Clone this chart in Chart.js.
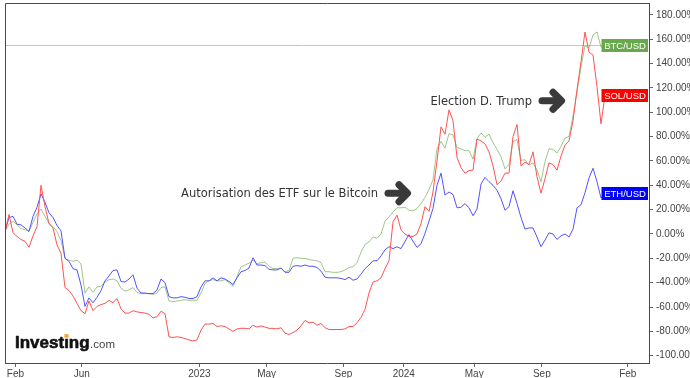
<!DOCTYPE html>
<html>
<head>
<meta charset="utf-8">
<script src="https://cdn.jsdelivr.net/npm/chart.js@4/dist/chart.umd.min.js"></script>
<style>
  html, body { margin: 0; padding: 0; background: #fff; }
  #wrap { width: 690px; height: 378px; }
</style>
</head>
<body>
<div id="wrap"><canvas id="c" width="690" height="378"></canvas></div>
<script>
// Weekly performance (%) since the start of the period
const btc = [
  2, 8, 10.5, 7.5, 4.5, 3.5, 2.5, 9.5, 16.5, 20.5,
  14.5, 9, 6, 2, -5.5, -20, -21.5, -22.5, -21.5, -24.5,
  -48.5, -43.5, -48, -43.5, -43, -39.5, -37.5, -37, -38.5, -44.5,
  -47, -46, -44, -48, -49, -49, -49, -49.5, -48.5, -44,
  -43.5, -55, -55.5, -55, -54.5, -54, -54.5, -54.5, -54.5, -48.5,
  -40.5, -38.5, -37.5, -38.5, -38.5, -37.5, -40, -43, -35, -27,
  -25.5, -24, -21.5, -24.5, -23.5, -23, -26.5, -28.5, -28.5, -28,
  -31, -30, -20, -19.5, -20, -20, -21, -21.5, -22, -23.5,
  -31, -31, -31.5, -31.5, -31, -29.5, -27.5, -27, -23.5, -15,
  -8.5, -6.5, -2.5, -3.5, 0, 10.5, 14, 18, 21.5, 21.5,
  22, 19.5, 19, 21, 25, 30, 36.5, 44.5, 70, 76,
  70.5, 82.5, 81.5, 71, 70, 68.5, 68.5, 61.5, 78.5, 83,
  79.5, 82, 75, 69.5, 63.5, 53.5, 57, 76, 77.5, 60.5,
  61, 56.5, 58.5, 52.5, 43, 59.5, 70, 69.5, 66.5, 72,
  79, 80, 97, 117, 137.5, 154.5, 153, 163.5, 166, 153.5,
  155
];
const sol = [
  2, 16, 1, -2, -4.5, -6, -11, -1.5, 6, 40,
  22.5, 8.5, 5, -9, -16, -44, -46.5, -51, -57, -63,
  -65.5, -55, -63, -59.5, -58, -57, -54.5, -56.5, -53, -61.5,
  -65, -65, -63, -64, -64.5, -65, -66, -69, -68, -63.5,
  -65.5, -84.5, -85, -84.5, -85, -86, -87, -88, -87, -79,
  -74, -74, -73.5, -76, -75.5, -76, -78, -80, -78, -77.5,
  -77.5, -78, -75, -76.5, -75.5, -76.5, -77.5, -77.5, -78, -77,
  -81.5, -82.5, -81, -79, -75.5, -71, -73, -72.5, -75, -73.5,
  -77, -78.5, -78.5, -78.5, -78.5, -78, -76, -76, -73, -68.5,
  -62, -48.5, -39.5, -38.5, -36, -28.5, -22, 10, 15.5, 3.5,
  0, -2, -2, 0, 8.5, 22.5, 18.5, 34.5, 60, 88,
  82, 102, 93, 63, 54.5, 50, 52, 52.5, 78, 76.5,
  74, 67.5, 56, 40.5, 43.5, 50, 50, 80, 90, 56,
  59, 57, 67.5, 47, 33.5, 45.5, 58.5, 57, 52.5, 64,
  73, 76.5, 93, 118.5, 141.5, 166, 149.5, 147, 121, 90.5,
  114
];
const eth = [
  2, 13.5, 14.5, 8, 7.5, 5, 2, 14.5, 22, 33,
  26, 17.5, 13.5, 7, 2.5, -20, -22.5, -28.5, -29.5, -42,
  -59.5, -52.5, -56.5, -52, -46.5, -38.5, -34.5, -30, -29.5, -39,
  -39.5, -37, -33.5, -44.5, -48.5, -48.5, -49, -49, -46, -37,
  -40, -51.5, -52.5, -52.5, -51.5, -52, -53, -53, -51.5, -43.5,
  -38.5, -38.5, -36, -38.5, -36, -37, -39, -41.5, -36, -31,
  -30, -28, -19.5, -25.5, -25.5, -26, -29, -29.5, -29.5, -28,
  -31.5, -31.5, -26.5, -26, -26.5, -25.5, -26.5, -26.5, -27.5, -30.5,
  -35.5, -36, -36, -36, -36.5, -37.5, -35.5, -38, -37, -33,
  -28.5, -25.5, -22, -22, -18, -13, -10.5, -12, -10.5, -12,
  -6, -0.5, -6, -11, -8, 0.5, 10.5, 21, 40, 50,
  32, 34.5, 32.5, 21.5, 22, 25, 21.5, 15, 20.5, 41,
  46.5, 43, 40, 36, 29, 19.5, 22.5, 35.5, 25, 13.5,
  4, 5, 5, -2.5, -10.5, -5, 1, 0, -4.5, -1.5,
  0, -2.5, 4, 21.5, 24, 34, 46, 54, 43, 29.5,
  33
];

// Week index at which each axis label's month begins
const tickWeeks  = [2.6, 19.2, 48.6, 65.4, 84.6, 99.7, 117.3, 134.2, 155.7];
const tickLabels = ['Feb', 'Jun', '2023', 'May', 'Sep', '2024', 'May', 'Sep', 'Feb'];
const yTickValues = [-100, -80, -60, -40, -20, 0, 20, 40, 60, 80, 100, 120, 140, 160, 180];

const seriesNames = ['SOL/USD', 'ETH/USD', 'BTC/USD'];

// Event notes: [text, week index, level in %]
const notes = [
  ['Autorisation des ETF sur le Bitcoin', 101.5, 33.5],
  ['Election D. Trump', 140, 109.5]
];

const toPoints = arr => arr.map((v, i) => ({ x: i, y: v }));

const lineColors = ['#ff5252', '#5252ff', 'rgba(112,172,84,0.68)'];
const boxColors  = ['#ff0000', '#0000ff', '#6aa84f'];
const seriesData = [sol, eth, btc];

Chart.defaults.font.family = '"Liberation Sans", Arial, sans-serif';

const overlay = {
  id: 'overlay',
  beforeDatasetsDraw(chart) {
    const { ctx, chartArea, scales } = chart;
    // last-price guide for BTC
    const y = Math.round(scales.y.getPixelForValue(btc[btc.length - 1])) + 0.5;
    ctx.save();
    ctx.strokeStyle = '#b4d89e';
    ctx.lineWidth = 1;
    ctx.beginPath();
    ctx.moveTo(chartArea.left, y);
    ctx.lineTo(chartArea.right - 47, y);
    ctx.stroke();
    ctx.restore();
  },
  afterDatasetsDraw(chart) {
    const { ctx, chartArea, scales } = chart;
    const xs = scales.x, ys = scales.y;
    ctx.save();

    // frame on the left and top edges
    ctx.strokeStyle = '#4a4a4a';
    ctx.lineWidth = 1;
    ctx.beginPath();
    ctx.moveTo(chartArea.left + 0.5, chartArea.bottom);
    ctx.lineTo(chartArea.left + 0.5, chartArea.top + 0.5);
    ctx.lineTo(chartArea.right, chartArea.top + 0.5);
    ctx.stroke();

    // series tags at the last value
    seriesData.forEach((arr, k) => {
      const yc = ys.getPixelForValue(arr[arr.length - 1]);
      const x0 = chartArea.right - 47.5;
      ctx.fillStyle = boxColors[k];
      ctx.fillRect(x0, Math.round(yc - 6.5), 46.5, 13);
      ctx.fillStyle = '#ffffff';
      ctx.font = '9.5px "Liberation Sans", Arial, sans-serif';
      ctx.textAlign = 'center';
      ctx.textBaseline = 'middle';
      ctx.fillText(seriesNames[k], x0 + 23.5, Math.round(yc - 6.5) + 7);
    });

    // event notes with arrows
    notes.forEach(([text, wk, lvl]) => {
      const tx = xs.getPixelForValue(wk);
      const ty = ys.getPixelForValue(lvl);
      ctx.strokeStyle = '#3a3a3a';
      ctx.lineCap = 'round';
      ctx.lineJoin = 'round';
      ctx.lineWidth = 7;
      ctx.beginPath();
      ctx.moveTo(tx - 23, ty);
      ctx.lineTo(tx - 5, ty);
      ctx.stroke();
      ctx.beginPath();
      ctx.moveTo(tx - 12, ty - 8.5);
      ctx.lineTo(tx - 3.5, ty);
      ctx.lineTo(tx - 12, ty + 8.5);
      ctx.stroke();
      ctx.fillStyle = '#333333';
      ctx.font = '11.5px "DejaVu Sans", sans-serif';
      ctx.textAlign = 'right';
      ctx.textBaseline = 'middle';
      ctx.fillText(text, tx - 33, ty + 1);
    });

    // brand mark
    const bx = chartArea.left + 10, by = chartArea.bottom - 15.5;
    ctx.textAlign = 'left';
    ctx.textBaseline = 'alphabetic';
    ctx.font = 'bold 17px "Liberation Sans", Arial, sans-serif';
    ctx.fillStyle = '#111111';
    ctx.strokeStyle = '#111111';
    ctx.lineWidth = 0.6;
    ctx.lineCap = 'butt';
    ctx.fillText('Investing', bx, by);
    ctx.strokeText('Investing', bx, by);
    const pre = ctx.measureText('Invest').width;
    const iw = ctx.measureText('i').width;
    const wBrand = ctx.measureText('Investing').width;
    ctx.fillStyle = '#ffffff';
    ctx.fillRect(bx + pre + iw / 2 - 2.7, by - 14, 5.4, 4.6);
    ctx.fillStyle = '#f5a623';
    ctx.fillRect(bx + pre + iw / 2 - 2.1, by - 13.3, 4.2, 3.5);
    ctx.font = '11.5px "Liberation Sans", Arial, sans-serif';
    ctx.fillStyle = '#444444';
    ctx.fillText('.com', bx + wBrand + 0.5, by);

    ctx.restore();
  }
};

new Chart(document.getElementById('c'), {
  type: 'line',
  data: {
    datasets: seriesData.map((arr, k) => ({
      label: seriesNames[k],
      data: toPoints(arr),
      borderColor: lineColors[k],
      borderWidth: 1,
      pointRadius: 0,
      tension: 0,
      fill: false
    }))
  },
  options: {
    responsive: false,
    animation: false,
    events: [],
    layout: { padding: { top: 3, left: 5, right: 0, bottom: 0 } },
    plugins: { legend: { display: false }, tooltip: { enabled: false } },
    scales: {
      x: {
        type: 'linear',
        min: 0,
        max: 161,
        afterBuildTicks: s => { s.ticks = tickWeeks.map(v => ({ value: v })); },
        afterFit: s => { s.height = 15; s.paddingLeft = 0; s.paddingRight = 0; },
        grid: { drawOnChartArea: false, drawTicks: true, tickLength: 4, color: '#666' },
        border: { display: true, color: '#4a4a4a' },
        ticks: {
          autoSkip: false,
          maxRotation: 0,
          padding: 1,
          color: '#444',
          font: { size: 10 },
          callback: (v, i) => tickLabels[i]
        }
      },
      y: {
        type: 'linear',
        position: 'right',
        min: -106,
        max: 189.8,
        afterBuildTicks: s => { s.ticks = yTickValues.map(v => ({ value: v })); },
        afterFit: s => { s.width = 41; s.paddingTop = 0; s.paddingBottom = 0; },
        grid: { drawOnChartArea: false, drawTicks: true, tickLength: 4, color: '#666' },
        border: { display: true, color: '#4a4a4a' },
        ticks: {
          autoSkip: false,
          padding: 3,
          color: '#444',
          font: { size: 10 },
          callback: v => v.toFixed(2) + '%'
        }
      }
    }
  },
  plugins: [overlay]
});
</script>
</body>
</html>
